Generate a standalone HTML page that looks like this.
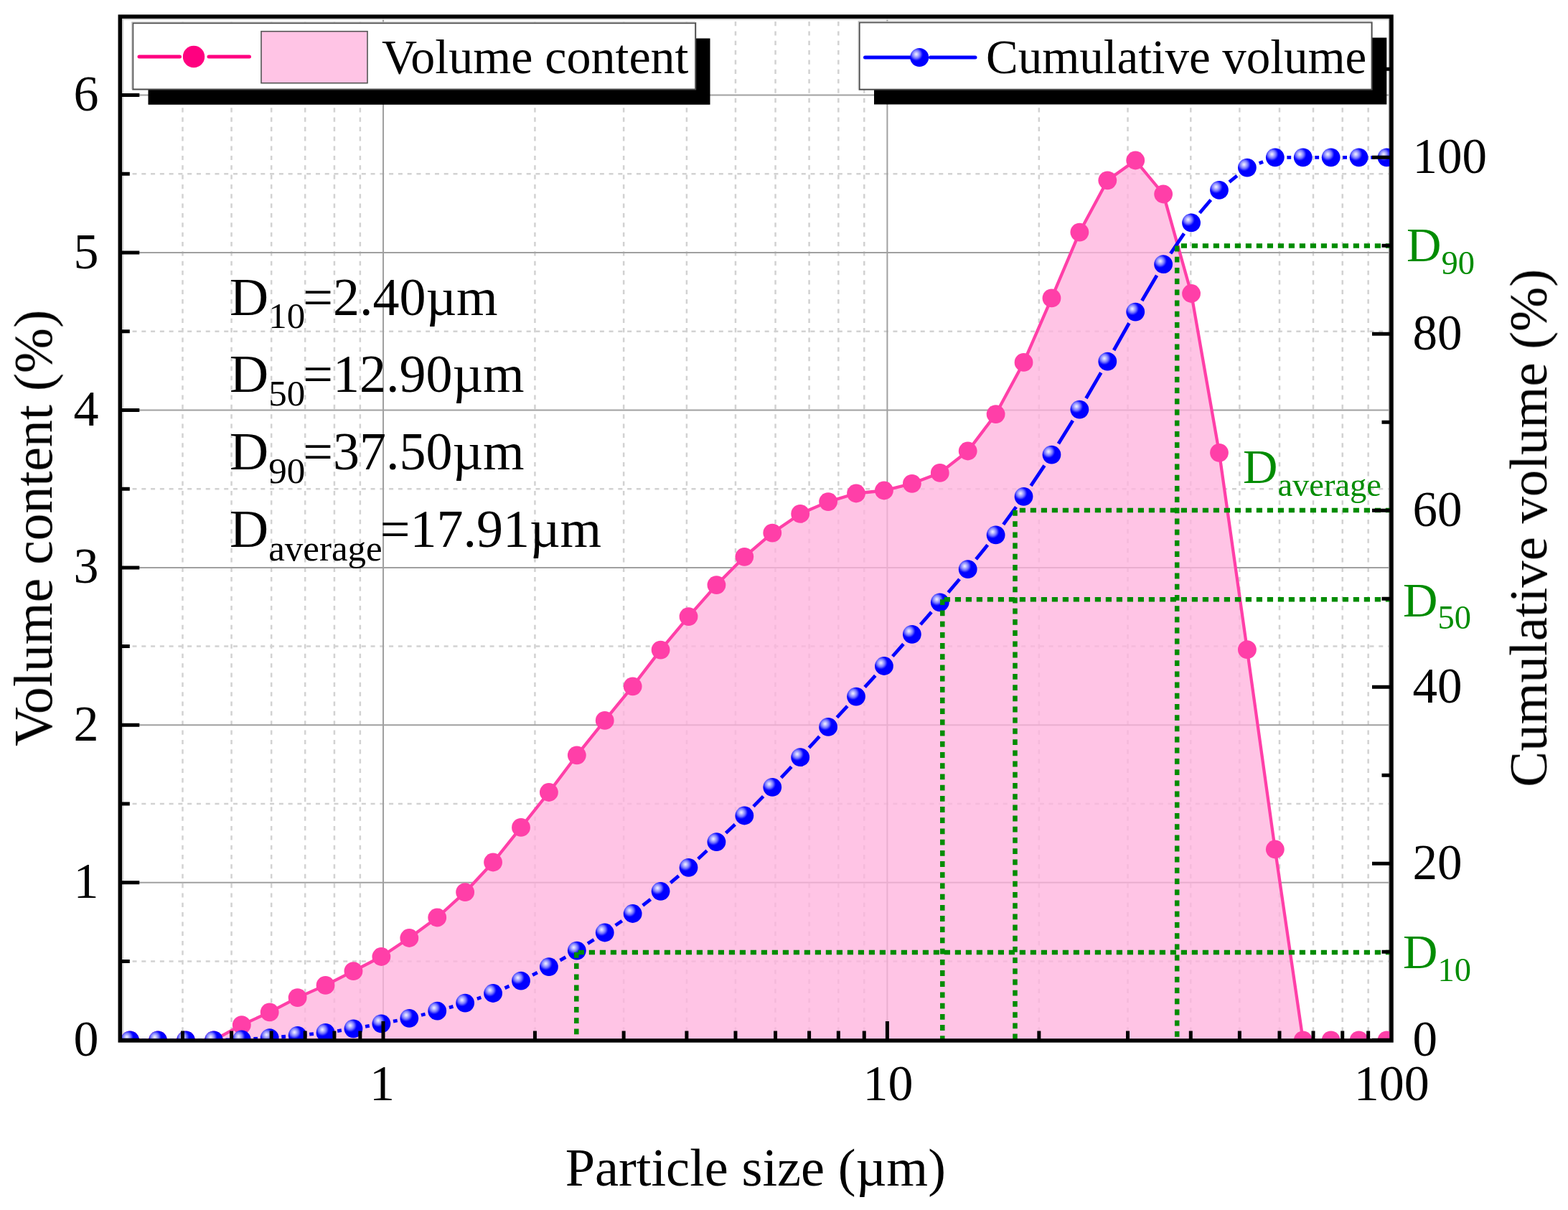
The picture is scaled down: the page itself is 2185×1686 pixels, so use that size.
<!DOCTYPE html>
<html><head><meta charset="utf-8"><title>Particle size distribution</title>
<style>html,body{margin:0;padding:0;background:#fff}svg{display:block}</style></head>
<body>
<svg width="2185" height="1686" viewBox="0 0 2185 1686">
<defs>
<clipPath id="pc"><rect x="167.3" y="23.1" width="1771.7" height="1426.8000000000002"/></clipPath>
<radialGradient id="bg" cx="0.33" cy="0.33" r="0.55" fx="0.33" fy="0.33">
<stop offset="0" stop-color="#f2f2ff"/><stop offset="0.16" stop-color="#c4c4ff"/><stop offset="0.4" stop-color="#7070ff"/><stop offset="0.58" stop-color="#1818ff"/><stop offset="0.66" stop-color="#0000ff"/><stop offset="1" stop-color="#0000ff"/>
</radialGradient>
<filter id="soft" x="0" y="0" width="2185" height="1686" filterUnits="userSpaceOnUse" color-interpolation-filters="sRGB"><feGaussianBlur stdDeviation="0.55"/></filter>
</defs>
<rect width="2185" height="1686" fill="#fff"/>
<g filter="url(#soft)">
<g clip-path="url(#pc)"><line x1="254.49" y1="1449.9" x2="254.49" y2="23.1" stroke="#d2d2d2" stroke-width="2.5" stroke-dasharray="6.2 7.144" stroke-dashoffset="0.844"/><line x1="322.56" y1="1449.9" x2="322.56" y2="23.1" stroke="#d2d2d2" stroke-width="2.5" stroke-dasharray="6.2 7.144" stroke-dashoffset="0.844"/><line x1="378.17" y1="1449.9" x2="378.17" y2="23.1" stroke="#d2d2d2" stroke-width="2.5" stroke-dasharray="6.2 7.144" stroke-dashoffset="0.844"/><line x1="425.20" y1="1449.9" x2="425.20" y2="23.1" stroke="#d2d2d2" stroke-width="2.5" stroke-dasharray="6.2 7.144" stroke-dashoffset="0.844"/><line x1="465.93" y1="1449.9" x2="465.93" y2="23.1" stroke="#d2d2d2" stroke-width="2.5" stroke-dasharray="6.2 7.144" stroke-dashoffset="0.844"/><line x1="501.86" y1="1449.9" x2="501.86" y2="23.1" stroke="#d2d2d2" stroke-width="2.5" stroke-dasharray="6.2 7.144" stroke-dashoffset="0.844"/><line x1="745.44" y1="1449.9" x2="745.44" y2="23.1" stroke="#d2d2d2" stroke-width="2.5" stroke-dasharray="6.2 7.144" stroke-dashoffset="0.844"/><line x1="869.13" y1="1449.9" x2="869.13" y2="23.1" stroke="#d2d2d2" stroke-width="2.5" stroke-dasharray="6.2 7.144" stroke-dashoffset="0.844"/><line x1="956.89" y1="1449.9" x2="956.89" y2="23.1" stroke="#d2d2d2" stroke-width="2.5" stroke-dasharray="6.2 7.144" stroke-dashoffset="0.844"/><line x1="1024.96" y1="1449.9" x2="1024.96" y2="23.1" stroke="#d2d2d2" stroke-width="2.5" stroke-dasharray="6.2 7.144" stroke-dashoffset="0.844"/><line x1="1080.57" y1="1449.9" x2="1080.57" y2="23.1" stroke="#d2d2d2" stroke-width="2.5" stroke-dasharray="6.2 7.144" stroke-dashoffset="0.844"/><line x1="1127.60" y1="1449.9" x2="1127.60" y2="23.1" stroke="#d2d2d2" stroke-width="2.5" stroke-dasharray="6.2 7.144" stroke-dashoffset="0.844"/><line x1="1168.33" y1="1449.9" x2="1168.33" y2="23.1" stroke="#d2d2d2" stroke-width="2.5" stroke-dasharray="6.2 7.144" stroke-dashoffset="0.844"/><line x1="1204.26" y1="1449.9" x2="1204.26" y2="23.1" stroke="#d2d2d2" stroke-width="2.5" stroke-dasharray="6.2 7.144" stroke-dashoffset="0.844"/><line x1="1447.84" y1="1449.9" x2="1447.84" y2="23.1" stroke="#d2d2d2" stroke-width="2.5" stroke-dasharray="6.2 7.144" stroke-dashoffset="0.844"/><line x1="1571.53" y1="1449.9" x2="1571.53" y2="23.1" stroke="#d2d2d2" stroke-width="2.5" stroke-dasharray="6.2 7.144" stroke-dashoffset="0.844"/><line x1="1659.29" y1="1449.9" x2="1659.29" y2="23.1" stroke="#d2d2d2" stroke-width="2.5" stroke-dasharray="6.2 7.144" stroke-dashoffset="0.844"/><line x1="1727.36" y1="1449.9" x2="1727.36" y2="23.1" stroke="#d2d2d2" stroke-width="2.5" stroke-dasharray="6.2 7.144" stroke-dashoffset="0.844"/><line x1="1782.97" y1="1449.9" x2="1782.97" y2="23.1" stroke="#d2d2d2" stroke-width="2.5" stroke-dasharray="6.2 7.144" stroke-dashoffset="0.844"/><line x1="1830.00" y1="1449.9" x2="1830.00" y2="23.1" stroke="#d2d2d2" stroke-width="2.5" stroke-dasharray="6.2 7.144" stroke-dashoffset="0.844"/><line x1="1870.73" y1="1449.9" x2="1870.73" y2="23.1" stroke="#d2d2d2" stroke-width="2.5" stroke-dasharray="6.2 7.144" stroke-dashoffset="0.844"/><line x1="1906.66" y1="1449.9" x2="1906.66" y2="23.1" stroke="#d2d2d2" stroke-width="2.5" stroke-dasharray="6.2 7.144" stroke-dashoffset="0.844"/><line x1="167.3" y1="1339.57" x2="1939.0" y2="1339.57" stroke="#d2d2d2" stroke-width="2.5" stroke-dasharray="6 6.77" stroke-dashoffset="8.3"/><line x1="167.3" y1="1120.10" x2="1939.0" y2="1120.10" stroke="#d2d2d2" stroke-width="2.5" stroke-dasharray="6 6.77" stroke-dashoffset="8.3"/><line x1="167.3" y1="900.62" x2="1939.0" y2="900.62" stroke="#d2d2d2" stroke-width="2.5" stroke-dasharray="6 6.77" stroke-dashoffset="8.3"/><line x1="167.3" y1="681.15" x2="1939.0" y2="681.15" stroke="#d2d2d2" stroke-width="2.5" stroke-dasharray="6 6.77" stroke-dashoffset="8.3"/><line x1="167.3" y1="461.68" x2="1939.0" y2="461.68" stroke="#d2d2d2" stroke-width="2.5" stroke-dasharray="6 6.77" stroke-dashoffset="8.3"/><line x1="167.3" y1="242.21" x2="1939.0" y2="242.21" stroke="#d2d2d2" stroke-width="2.5" stroke-dasharray="6 6.77" stroke-dashoffset="8.3"/><line x1="534.00" y1="23.1" x2="534.00" y2="1449.9" stroke="#a0a0a0" stroke-width="2"/><line x1="1236.40" y1="23.1" x2="1236.40" y2="1449.9" stroke="#a0a0a0" stroke-width="2"/><line x1="167.3" y1="1229.83" x2="1939.0" y2="1229.83" stroke="#a0a0a0" stroke-width="2"/><line x1="167.3" y1="1010.36" x2="1939.0" y2="1010.36" stroke="#a0a0a0" stroke-width="2"/><line x1="167.3" y1="790.89" x2="1939.0" y2="790.89" stroke="#a0a0a0" stroke-width="2"/><line x1="167.3" y1="571.42" x2="1939.0" y2="571.42" stroke="#a0a0a0" stroke-width="2"/><line x1="167.3" y1="351.95" x2="1939.0" y2="351.95" stroke="#a0a0a0" stroke-width="2"/><line x1="167.3" y1="132.48" x2="1939.0" y2="132.48" stroke="#a0a0a0" stroke-width="2"/><line x1="171.2" y1="23.1" x2="171.2" y2="1449.9" stroke="#d0d0d0" stroke-width="2"/><line x1="167.3" y1="26.8" x2="1939.0" y2="26.8" stroke="#d0d0d0" stroke-width="2"/><line x1="1935.9" y1="23.1" x2="1935.9" y2="1449.9" stroke="#9c9c9c" stroke-width="2"/>
<polygon points="181.10,1449.3 181.10,1449.30 220.02,1449.30 258.94,1449.30 297.86,1449.30 336.78,1428.20 375.70,1410.40 414.62,1390.10 453.54,1372.90 492.46,1353.20 531.38,1333.00 570.30,1307.00 609.22,1278.50 648.14,1243.20 687.06,1201.50 725.98,1152.90 764.90,1104.00 803.82,1052.30 842.74,1003.90 881.66,956.30 920.58,905.60 959.50,859.10 998.42,815.10 1037.34,775.80 1076.26,742.60 1115.18,715.90 1154.10,699.10 1193.02,687.50 1231.94,683.50 1270.86,673.80 1309.78,658.90 1348.70,628.50 1387.62,577.10 1426.54,504.90 1465.46,415.40 1504.38,323.60 1543.30,251.30 1582.22,223.50 1621.14,270.50 1660.06,409.00 1698.98,630.80 1737.90,905.20 1776.82,1183.50 1815.74,1449.30 1854.66,1449.30 1893.58,1449.30 1932.50,1449.30 1932.50,1449.3" fill="rgba(255,178,221,0.77)"/>
<polyline points="181.10,1449.30 220.02,1449.30 258.94,1449.30 297.86,1449.30 336.78,1428.20 375.70,1410.40 414.62,1390.10 453.54,1372.90 492.46,1353.20 531.38,1333.00 570.30,1307.00 609.22,1278.50 648.14,1243.20 687.06,1201.50 725.98,1152.90 764.90,1104.00 803.82,1052.30 842.74,1003.90 881.66,956.30 920.58,905.60 959.50,859.10 998.42,815.10 1037.34,775.80 1076.26,742.60 1115.18,715.90 1154.10,699.10 1193.02,687.50 1231.94,683.50 1270.86,673.80 1309.78,658.90 1348.70,628.50 1387.62,577.10 1426.54,504.90 1465.46,415.40 1504.38,323.60 1543.30,251.30 1582.22,223.50 1621.14,270.50 1660.06,409.00 1698.98,630.80 1737.90,905.20 1776.82,1183.50 1815.74,1449.30 1854.66,1449.30 1893.58,1449.30 1932.50,1449.30" fill="none" stroke="#ff3fa8" stroke-width="4.3" stroke-linejoin="round"/>
<circle cx="181.10" cy="1449.30" r="12.9" fill="#ff3fa8"/><circle cx="220.02" cy="1449.30" r="12.9" fill="#ff3fa8"/><circle cx="258.94" cy="1449.30" r="12.9" fill="#ff3fa8"/><circle cx="297.86" cy="1449.30" r="12.9" fill="#ff3fa8"/><circle cx="336.78" cy="1428.20" r="12.9" fill="#ff3fa8"/><circle cx="375.70" cy="1410.40" r="12.9" fill="#ff3fa8"/><circle cx="414.62" cy="1390.10" r="12.9" fill="#ff3fa8"/><circle cx="453.54" cy="1372.90" r="12.9" fill="#ff3fa8"/><circle cx="492.46" cy="1353.20" r="12.9" fill="#ff3fa8"/><circle cx="531.38" cy="1333.00" r="12.9" fill="#ff3fa8"/><circle cx="570.30" cy="1307.00" r="12.9" fill="#ff3fa8"/><circle cx="609.22" cy="1278.50" r="12.9" fill="#ff3fa8"/><circle cx="648.14" cy="1243.20" r="12.9" fill="#ff3fa8"/><circle cx="687.06" cy="1201.50" r="12.9" fill="#ff3fa8"/><circle cx="725.98" cy="1152.90" r="12.9" fill="#ff3fa8"/><circle cx="764.90" cy="1104.00" r="12.9" fill="#ff3fa8"/><circle cx="803.82" cy="1052.30" r="12.9" fill="#ff3fa8"/><circle cx="842.74" cy="1003.90" r="12.9" fill="#ff3fa8"/><circle cx="881.66" cy="956.30" r="12.9" fill="#ff3fa8"/><circle cx="920.58" cy="905.60" r="12.9" fill="#ff3fa8"/><circle cx="959.50" cy="859.10" r="12.9" fill="#ff3fa8"/><circle cx="998.42" cy="815.10" r="12.9" fill="#ff3fa8"/><circle cx="1037.34" cy="775.80" r="12.9" fill="#ff3fa8"/><circle cx="1076.26" cy="742.60" r="12.9" fill="#ff3fa8"/><circle cx="1115.18" cy="715.90" r="12.9" fill="#ff3fa8"/><circle cx="1154.10" cy="699.10" r="12.9" fill="#ff3fa8"/><circle cx="1193.02" cy="687.50" r="12.9" fill="#ff3fa8"/><circle cx="1231.94" cy="683.50" r="12.9" fill="#ff3fa8"/><circle cx="1270.86" cy="673.80" r="12.9" fill="#ff3fa8"/><circle cx="1309.78" cy="658.90" r="12.9" fill="#ff3fa8"/><circle cx="1348.70" cy="628.50" r="12.9" fill="#ff3fa8"/><circle cx="1387.62" cy="577.10" r="12.9" fill="#ff3fa8"/><circle cx="1426.54" cy="504.90" r="12.9" fill="#ff3fa8"/><circle cx="1465.46" cy="415.40" r="12.9" fill="#ff3fa8"/><circle cx="1504.38" cy="323.60" r="12.9" fill="#ff3fa8"/><circle cx="1543.30" cy="251.30" r="12.9" fill="#ff3fa8"/><circle cx="1582.22" cy="223.50" r="12.9" fill="#ff3fa8"/><circle cx="1621.14" cy="270.50" r="12.9" fill="#ff3fa8"/><circle cx="1660.06" cy="409.00" r="12.9" fill="#ff3fa8"/><circle cx="1698.98" cy="630.80" r="12.9" fill="#ff3fa8"/><circle cx="1737.90" cy="905.20" r="12.9" fill="#ff3fa8"/><circle cx="1776.82" cy="1183.50" r="12.9" fill="#ff3fa8"/><circle cx="1815.74" cy="1449.30" r="12.9" fill="#ff3fa8"/><circle cx="1854.66" cy="1449.30" r="12.9" fill="#ff3fa8"/><circle cx="1893.58" cy="1449.30" r="12.9" fill="#ff3fa8"/><circle cx="1932.50" cy="1449.30" r="12.9" fill="#ff3fa8"/>
<path d="M197.66 1449.30L203.46 1449.30M236.58 1449.30L242.38 1449.30M275.50 1449.30L281.30 1449.30M314.42 1448.96L320.22 1448.84M353.35 1447.52L359.13 1447.18M392.27 1444.75L398.05 1444.25M431.19 1441.14L436.97 1440.56M470.13 1436.51L475.87 1435.69M509.07 1430.31L514.77 1429.29M547.99 1423.10L553.69 1422.00M586.95 1414.48L592.57 1413.02M625.89 1403.95L631.47 1402.35M664.86 1391.76L670.34 1389.84M703.51 1376.69L709.53 1374.01M742.06 1358.60L748.82 1355.20M780.48 1338.09L788.24 1333.61M818.95 1314.84L827.61 1309.26M857.62 1289.37L866.78 1283.13M895.70 1261.74L906.54 1253.06M934.31 1230.16L945.77 1220.44M972.78 1196.65L985.14 1185.35M1011.52 1160.85L1024.24 1148.85M1049.94 1123.65L1063.66 1109.65M1088.56 1083.66L1102.88 1068.34M1127.37 1041.95L1141.91 1026.15M1166.29 999.65L1180.83 983.85M1205.16 957.31L1219.80 941.29M1243.84 914.49L1258.96 897.31M1282.71 870.25L1297.93 852.85M1321.39 825.55L1337.09 806.95M1360.07 779.24L1376.25 759.36M1398.20 730.83L1415.96 706.37M1436.55 676.84L1455.45 648.56M1474.92 618.29L1494.92 585.91M1513.43 555.04L1534.25 519.26M1552.13 488.02L1573.39 450.28M1591.32 419.07L1612.04 383.73M1631.19 353.27L1650.01 325.33M1671.75 296.71L1687.29 278.49M1713.02 253.54L1723.86 244.86M1754.64 227.45L1760.08 225.45M1793.38 219.30L1799.18 219.30M1832.30 219.30L1838.10 219.30M1871.22 219.30L1877.02 219.30M1910.14 219.30L1915.94 219.30" stroke="#0000ff" stroke-width="4.8" fill="none"/>
<circle cx="181.10" cy="1449.30" r="12.9" fill="url(#bg)"/><circle cx="220.02" cy="1449.30" r="12.9" fill="url(#bg)"/><circle cx="258.94" cy="1449.30" r="12.9" fill="url(#bg)"/><circle cx="297.86" cy="1449.30" r="12.9" fill="url(#bg)"/><circle cx="336.78" cy="1448.50" r="12.9" fill="url(#bg)"/><circle cx="375.70" cy="1446.20" r="12.9" fill="url(#bg)"/><circle cx="414.62" cy="1442.80" r="12.9" fill="url(#bg)"/><circle cx="453.54" cy="1438.90" r="12.9" fill="url(#bg)"/><circle cx="492.46" cy="1433.30" r="12.9" fill="url(#bg)"/><circle cx="531.38" cy="1426.30" r="12.9" fill="url(#bg)"/><circle cx="570.30" cy="1418.80" r="12.9" fill="url(#bg)"/><circle cx="609.22" cy="1408.70" r="12.9" fill="url(#bg)"/><circle cx="648.14" cy="1397.60" r="12.9" fill="url(#bg)"/><circle cx="687.06" cy="1384.00" r="12.9" fill="url(#bg)"/><circle cx="725.98" cy="1366.70" r="12.9" fill="url(#bg)"/><circle cx="764.90" cy="1347.10" r="12.9" fill="url(#bg)"/><circle cx="803.82" cy="1324.60" r="12.9" fill="url(#bg)"/><circle cx="842.74" cy="1299.50" r="12.9" fill="url(#bg)"/><circle cx="881.66" cy="1273.00" r="12.9" fill="url(#bg)"/><circle cx="920.58" cy="1241.80" r="12.9" fill="url(#bg)"/><circle cx="959.50" cy="1208.80" r="12.9" fill="url(#bg)"/><circle cx="998.42" cy="1173.20" r="12.9" fill="url(#bg)"/><circle cx="1037.34" cy="1136.50" r="12.9" fill="url(#bg)"/><circle cx="1076.26" cy="1096.80" r="12.9" fill="url(#bg)"/><circle cx="1115.18" cy="1055.20" r="12.9" fill="url(#bg)"/><circle cx="1154.10" cy="1012.90" r="12.9" fill="url(#bg)"/><circle cx="1193.02" cy="970.60" r="12.9" fill="url(#bg)"/><circle cx="1231.94" cy="928.00" r="12.9" fill="url(#bg)"/><circle cx="1270.86" cy="883.80" r="12.9" fill="url(#bg)"/><circle cx="1309.78" cy="839.30" r="12.9" fill="url(#bg)"/><circle cx="1348.70" cy="793.20" r="12.9" fill="url(#bg)"/><circle cx="1387.62" cy="745.40" r="12.9" fill="url(#bg)"/><circle cx="1426.54" cy="691.80" r="12.9" fill="url(#bg)"/><circle cx="1465.46" cy="633.60" r="12.9" fill="url(#bg)"/><circle cx="1504.38" cy="570.60" r="12.9" fill="url(#bg)"/><circle cx="1543.30" cy="503.70" r="12.9" fill="url(#bg)"/><circle cx="1582.22" cy="434.60" r="12.9" fill="url(#bg)"/><circle cx="1621.14" cy="368.20" r="12.9" fill="url(#bg)"/><circle cx="1660.06" cy="310.40" r="12.9" fill="url(#bg)"/><circle cx="1698.98" cy="264.80" r="12.9" fill="url(#bg)"/><circle cx="1737.90" cy="233.60" r="12.9" fill="url(#bg)"/><circle cx="1776.82" cy="219.30" r="12.9" fill="url(#bg)"/><circle cx="1815.74" cy="219.30" r="12.9" fill="url(#bg)"/><circle cx="1854.66" cy="219.30" r="12.9" fill="url(#bg)"/><circle cx="1893.58" cy="219.30" r="12.9" fill="url(#bg)"/><circle cx="1932.50" cy="219.30" r="12.9" fill="url(#bg)"/>
<line x1="1939.00" y1="1327.00" x2="803.30" y2="1327.00" stroke="#008c00" stroke-width="6.5" stroke-dasharray="8.2 6.8"/><line x1="803.30" y1="1327.00" x2="803.30" y2="1449.90" stroke="#008c00" stroke-width="6.5" stroke-dasharray="7.8 7.4"/><line x1="1939.00" y1="835.30" x2="1313.30" y2="835.30" stroke="#008c00" stroke-width="6.5" stroke-dasharray="8.2 6.8"/><line x1="1313.30" y1="835.30" x2="1313.30" y2="1449.90" stroke="#008c00" stroke-width="6.5" stroke-dasharray="7.8 7.4"/><line x1="1939.00" y1="711.00" x2="1414.50" y2="711.00" stroke="#008c00" stroke-width="6.5" stroke-dasharray="8.2 6.8"/><line x1="1414.50" y1="711.00" x2="1414.50" y2="1449.90" stroke="#008c00" stroke-width="6.5" stroke-dasharray="7.8 7.4"/><line x1="1939.00" y1="342.60" x2="1640.20" y2="342.60" stroke="#008c00" stroke-width="6.5" stroke-dasharray="8.2 6.8"/><line x1="1640.20" y1="342.60" x2="1640.20" y2="1449.90" stroke="#008c00" stroke-width="6.5" stroke-dasharray="7.8 7.4"/>
</g>
<rect x="167.3" y="23.1" width="1771.7" height="1426.8000000000002" fill="none" stroke="#000" stroke-width="5.5"/><path d="M534.00 1449.9V1422.9M1236.40 1449.9V1422.9M254.49 1449.9V1436.4M322.56 1449.9V1436.4M378.17 1449.9V1436.4M425.20 1449.9V1436.4M465.93 1449.9V1436.4M501.86 1449.9V1436.4M745.44 1449.9V1436.4M869.13 1449.9V1436.4M956.89 1449.9V1436.4M1024.96 1449.9V1436.4M1080.57 1449.9V1436.4M1127.60 1449.9V1436.4M1168.33 1449.9V1436.4M1204.26 1449.9V1436.4M1447.84 1449.9V1436.4M1571.53 1449.9V1436.4M1659.29 1449.9V1436.4M1727.36 1449.9V1436.4M1782.97 1449.9V1436.4M1830.00 1449.9V1436.4M1870.73 1449.9V1436.4M1906.66 1449.9V1436.4M167.3 1449.30H194.3M167.3 1339.57H180.8M167.3 1229.83H194.3M167.3 1120.10H180.8M167.3 1010.36H194.3M167.3 900.62H180.8M167.3 790.89H194.3M167.3 681.15H180.8M167.3 571.42H194.3M167.3 461.68H180.8M167.3 351.95H194.3M167.3 242.21H180.8M167.3 132.48H194.3M1939.0 1449.30H1912.0M1939.0 1326.30H1925.5M1939.0 1203.30H1912.0M1939.0 1080.30H1925.5M1939.0 957.30H1912.0M1939.0 834.30H1925.5M1939.0 711.30H1912.0M1939.0 588.30H1925.5M1939.0 465.30H1912.0M1939.0 342.30H1925.5M1939.0 219.30H1912.0M1939.0 96.30H1925.5" stroke="#000" stroke-width="5" fill="none"/>
<g font-family="'Liberation Serif','Times New Roman',serif" font-size="70" fill="#000"><text x="137.5" y="1470.8" text-anchor="end">0</text><text x="137.5" y="1251.3" text-anchor="end">1</text><text x="137.5" y="1031.9" text-anchor="end">2</text><text x="137.5" y="812.4" text-anchor="end">3</text><text x="137.5" y="592.9" text-anchor="end">4</text><text x="137.5" y="373.5" text-anchor="end">5</text><text x="137.5" y="154.0" text-anchor="end">6</text><text x="1968.5" y="1470.6" font-size="69">0</text><text x="1968.5" y="1224.6" font-size="69">20</text><text x="1968.5" y="978.6" font-size="69">40</text><text x="1968.5" y="732.6" font-size="69">60</text><text x="1968.5" y="486.6" font-size="69">80</text><text x="1968.5" y="240.6" font-size="69">100</text><text x="532.5" y="1533.2" text-anchor="middle">1</text><text x="1237.4" y="1533.2" text-anchor="middle">10</text><text x="1939.3" y="1533.2" text-anchor="middle">100</text></g>
<g font-family="'Liberation Serif','Times New Roman',serif" fill="#000"><text x="1052.8" y="1651.6" font-size="74.4" text-anchor="middle">Particle size (µm)</text><text transform="translate(72 735.8) rotate(-90)" font-size="75.7" text-anchor="middle">Volume content (%)</text><text transform="translate(2155 735.7) rotate(-90)" font-size="74.7" text-anchor="middle">Cumulative volume (%)</text></g>
<g font-family="'Liberation Serif','Times New Roman',serif" font-size="75" fill="#000"><text x="320" y="438.7">D<tspan font-size="51" dy="18.5">10</tspan><tspan dy="-18.5" dx="-3" font-size="74">=2.40µm</tspan></text><text x="320" y="546.4">D<tspan font-size="51" dy="18.5">50</tspan><tspan dy="-18.5" dx="-3" font-size="74">=12.90µm</tspan></text><text x="320" y="654.1">D<tspan font-size="51" dy="18.5">90</tspan><tspan dy="-18.5" dx="-3" font-size="74">=37.50µm</tspan></text><text x="320" y="762.3">D<tspan font-size="51" dy="18.5">average</tspan><tspan dy="-18.5" dx="-3" font-size="74">=17.91µm</tspan></text></g>
<g font-family="'Liberation Serif','Times New Roman',serif" font-size="67" fill="#008c00"><text x="1960" y="364.1">D<tspan font-size="46.5" dy="17.5">90</tspan></text><text x="1955" y="858.9">D<tspan font-size="46.5" dy="17.5">50</tspan></text><text x="1955" y="1349">D<tspan font-size="46.5" dy="17.5">10</tspan></text><text x="1732" y="673">D<tspan font-size="46.5" dy="17.5">average</tspan></text></g>
<rect x="206.5" y="53.5" width="783" height="92.3" fill="#000"/><rect x="185.2" y="32.2" width="784" height="92.3" fill="#fff" stroke="#4d4d4d" stroke-width="2"/><path d="M183.9 124.5V30.9H969" fill="none" stroke="#c0c0c0" stroke-width="1.4"/><path d="M194 79H250.5M291 79H347.5" stroke="#ff0080" stroke-width="5" stroke-linecap="round"/><circle cx="270" cy="79" r="15.2" fill="#ff0080"/><rect x="364" y="43.7" width="148" height="72" fill="#ffc4e5" stroke="#555" stroke-width="1.6"/><text x="532" y="101.7" font-family="'Liberation Serif','Times New Roman',serif" font-size="68">Volume content</text><rect x="1218" y="52.5" width="714.3" height="93" fill="#000"/><rect x="1197.6" y="31.3" width="714" height="93.4" fill="#fff" stroke="#4d4d4d" stroke-width="2"/><path d="M1196.3 124.7V30H1911.6" fill="none" stroke="#c0c0c0" stroke-width="1.4"/><path d="M1205.5 80H1268M1296.5 80H1359" stroke="#0000ff" stroke-width="5" stroke-linecap="round"/><circle cx="1281.2" cy="80" r="13" fill="url(#bg)"/><text x="1374" y="101.8" font-family="'Liberation Serif','Times New Roman',serif" font-size="67">Cumulative volume</text>
</g>
</svg>
</body></html>
